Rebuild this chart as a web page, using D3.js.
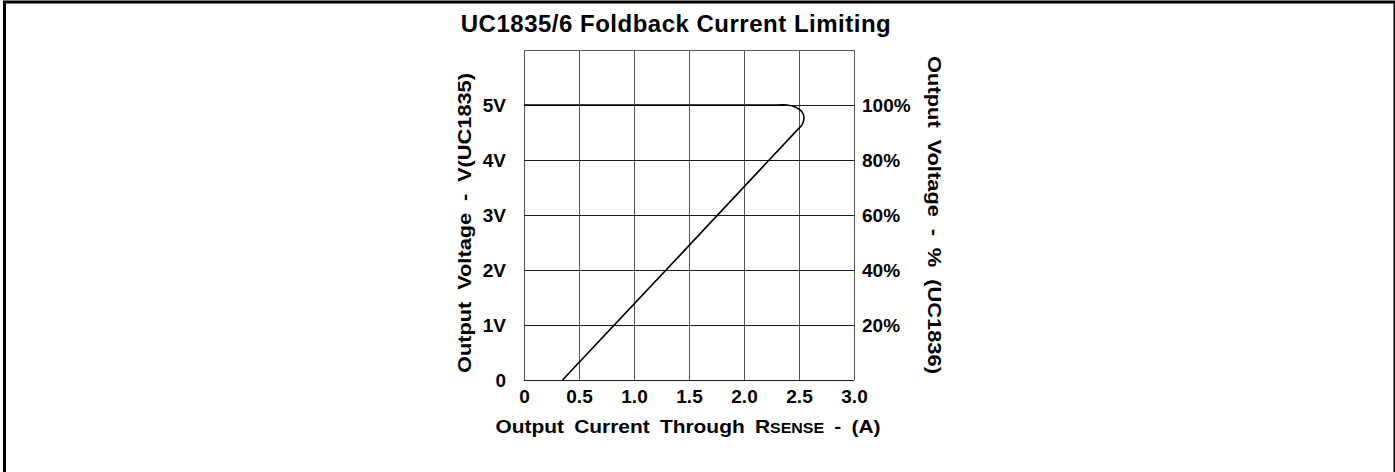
<!DOCTYPE html>
<html>
<head>
<meta charset="utf-8">
<script src="https://cdn.jsdelivr.net/npm/d3@7"></script>
<style>
  body { margin: 0; background: #fff; }
  text { font-family: "Liberation Sans", Arial, sans-serif; font-weight: bold; fill: #000; }
</style>
</head>
<body>
<div id="chart-area"></div>
<script>
// UC1835/6 foldback current limiting curve

var titleText = "UC1835/6 Foldback Current Limiting";

var xTicks = [0, 0.5, 1, 1.5, 2, 2.5, 3];
var xTickLabels = ["0", "0.5", "1.0", "1.5", "2.0", "2.5", "3.0"];
var yTicks = [0, 1, 2, 3, 4, 5];
var yTickLabels = ["0", "1V", "2V", "3V", "4V", "5V"];
var pctTicks = [20, 40, 60, 80, 100];
var pctTickLabels = ["20%", "40%", "60%", "80%", "100%"];

// the curve (amps, volts)
var currentA = [0, 2.3, 2.39, 2.47, 2.525, 2.545, 2.53, 2.50, 0.35];
var voltageV = [5, 5, 5, 4.96, 4.88, 4.77, 4.65, 4.58, 0];

var W = 1395, H = 472;
var margin = { left: 524, top: 50 };
var width = 330;
var height = 330;

var svg = d3.select("#chart-area")
    .append("svg")
        .attr("width", W)
        .attr("height", H);

// outer frame (bottom edge is cut off in the picture)
svg.append("rect")
    .attr("x", 4.5)
    .attr("y", 2)
    .attr("width", 1390.5)
    .attr("height", 500)
    .attr("fill", "none")
    .attr("stroke", "#000")
    .attr("stroke-width", 3);

svg.append("text")
    .attr("x", 676)
    .attr("y", 32)
    .attr("text-anchor", "middle")
    .style("font-size", "24px")
    .style("letter-spacing", "0.5px")
    .text(titleText);

var g = svg.append("g")
    .attr("transform", "translate(" + margin.left + ", " + margin.top + ")");

var xscale = d3.scaleLinear().domain([0, 3]).range([0, width]);
var yscale = d3.scaleLinear().domain([0, 6]).range([height, 0]);
var pscale = d3.scaleLinear().domain([0, 120]).range([height, 0]);

// grid
g.selectAll(".vgrid")
    .data(xTicks)
    .enter()
    .append("line")
        .attr("class", "vgrid")
        .attr("x1", function(d){ return Math.round(xscale(d)) + 0.5; })
        .attr("x2", function(d){ return Math.round(xscale(d)) + 0.5; })
        .attr("y1", 0)
        .attr("y2", height)
        .attr("stroke", "#555");

g.selectAll(".hgrid")
    .data(yTicks.concat([6]))
    .enter()
    .append("line")
        .attr("class", "hgrid")
        .attr("x1", 0)
        .attr("x2", width)
        .attr("y1", function(d){ return Math.round(yscale(d)) + 0.5; })
        .attr("y2", function(d){ return Math.round(yscale(d)) + 0.5; })
        .attr("stroke", function(d){ return d == 6 ? "#555" : "#1a1a1a"; });

// axes (labels only)
var leftAxisCall = d3.axisLeft(yscale)
    .tickValues(yTicks)
    .tickSize(0)
    .tickPadding(18)
    .tickFormat(function(d, i){ return yTickLabels[i]; });

var rightAxisCall = d3.axisRight(pscale)
    .tickValues(pctTicks)
    .tickSize(0)
    .tickPadding(8)
    .tickFormat(function(d, i){ return pctTickLabels[i]; });

var bottomAxisCall = d3.axisBottom(xscale)
    .tickValues(xTicks)
    .tickSize(0)
    .tickPadding(10)
    .tickFormat(function(d, i){ return xTickLabels[i]; });

function styleAxis(sel){
    sel.select(".domain").remove();
    sel.selectAll("text")
        .attr("fill", "#000")
        .style("font-family", "'Liberation Sans', Arial, sans-serif")
        .style("font-weight", "bold")
        .style("font-size", "19px");
}

g.append("g")
    .attr("class", "left-Axis")
    .call(leftAxisCall)
    .call(styleAxis);

g.append("g")
    .attr("class", "right-Axis")
    .attr("transform", "translate(" + width + ",0)")
    .call(rightAxisCall)
    .call(styleAxis);

g.append("g")
    .attr("class", "bottom-Axis")
    .attr("transform", "translate(0," + height + ")")
    .call(bottomAxisCall)
    .call(styleAxis);

// curve
var points = currentA.map(function(d, i){ return [d, voltageV[i]]; });

var line = d3.line()
    .x(function(d){ return xscale(d[0]); })
    .y(function(d){ return yscale(d[1]); })
    .curve(d3.curveCatmullRom.alpha(0.5));

g.append("path")
    .datum(points)
    .attr("d", line)
    .attr("fill", "none")
    .attr("stroke", "#000")
    .attr("stroke-width", 1.6);

// axis titles (glyphs in the original are wider, so stretch to its length)
var xTitle = svg.append("text")
    .attr("x", 688)
    .attr("y", 433)
    .attr("text-anchor", "middle")
    .attr("textLength", 385)
    .attr("lengthAdjust", "spacingAndGlyphs")
    .style("font-size", "19px")
    .style("word-spacing", "4px");
xTitle.append("tspan").text("Output Current Through R");
xTitle.append("tspan").style("font-size", "14.5px").text("SENSE");
xTitle.append("tspan").text(" - (A)");

svg.append("text")
    .attr("transform", "translate(471,223) rotate(-90)")
    .attr("text-anchor", "middle")
    .attr("textLength", 300)
    .attr("lengthAdjust", "spacingAndGlyphs")
    .style("font-size", "19px")
    .style("word-spacing", "5px")
    .text("Output Voltage - V(UC1835)");

svg.append("text")
    .attr("transform", "translate(928,215) rotate(90)")
    .attr("text-anchor", "middle")
    .attr("textLength", 318)
    .attr("lengthAdjust", "spacingAndGlyphs")
    .style("font-size", "19px")
    .style("word-spacing", "5px")
    .text("Output Voltage - % (UC1836)");
</script>
</body>
</html>
